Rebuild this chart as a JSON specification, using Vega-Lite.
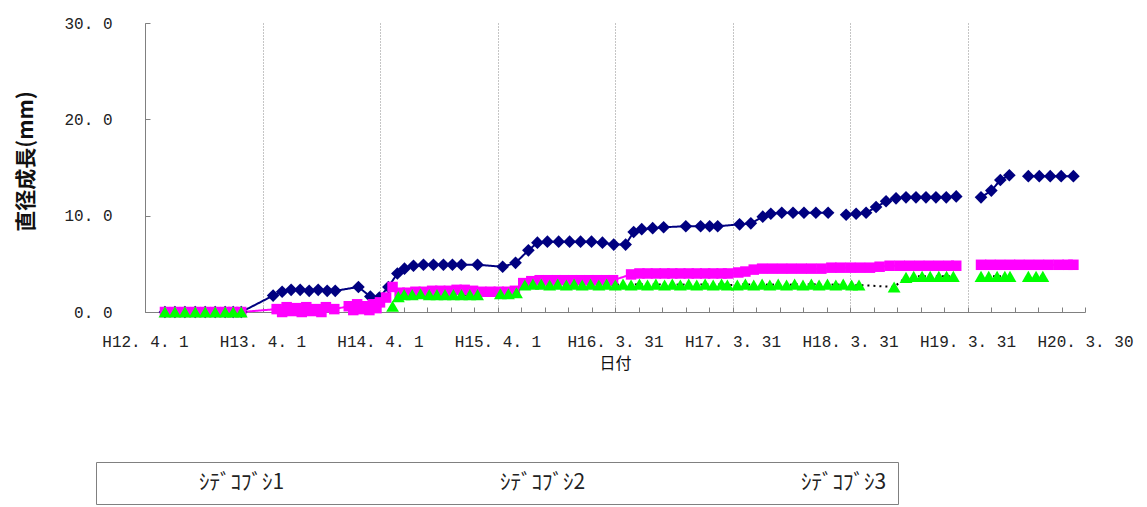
{
  "$schema": "https://vega.github.io/schema/vega-lite/v6.json",
  "width": 940,
  "height": 289,
  "autosize": {"type": "none"},
  "padding": {"left": 145, "top": 23, "right": 62, "bottom": 195},
  "background": "white",
  "config": {"view": {"stroke": null}},
  "data": {"values": [
    {"d":"2000-06-02","s":"ｼﾃﾞｺﾌﾞｼ1","g":1,"v":0},
    {"d":"2000-07-03","s":"ｼﾃﾞｺﾌﾞｼ1","g":1,"v":0},
    {"d":"2000-08-03","s":"ｼﾃﾞｺﾌﾞｼ1","g":1,"v":0},
    {"d":"2000-09-04","s":"ｼﾃﾞｺﾌﾞｼ1","g":1,"v":0},
    {"d":"2000-10-05","s":"ｼﾃﾞｺﾌﾞｼ1","g":1,"v":0},
    {"d":"2000-11-05","s":"ｼﾃﾞｺﾌﾞｼ1","g":1,"v":0},
    {"d":"2000-12-06","s":"ｼﾃﾞｺﾌﾞｼ1","g":1,"v":0},
    {"d":"2000-12-31","s":"ｼﾃﾞｺﾌﾞｼ1","g":1,"v":0},
    {"d":"2001-01-25","s":"ｼﾃﾞｺﾌﾞｼ1","g":1,"v":0},
    {"d":"2001-05-04","s":"ｼﾃﾞｺﾌﾞｼ1","g":1,"v":1.7},
    {"d":"2001-06-01","s":"ｼﾃﾞｺﾌﾞｼ1","g":1,"v":2.1},
    {"d":"2001-06-29","s":"ｼﾃﾞｺﾌﾞｼ1","g":1,"v":2.3},
    {"d":"2001-07-27","s":"ｼﾃﾞｺﾌﾞｼ1","g":1,"v":2.3},
    {"d":"2001-08-24","s":"ｼﾃﾞｺﾌﾞｼ1","g":1,"v":2.2},
    {"d":"2001-09-21","s":"ｼﾃﾞｺﾌﾞｼ1","g":1,"v":2.3},
    {"d":"2001-10-19","s":"ｼﾃﾞｺﾌﾞｼ1","g":1,"v":2.2},
    {"d":"2001-11-13","s":"ｼﾃﾞｺﾌﾞｼ1","g":1,"v":2.2},
    {"d":"2002-01-24","s":"ｼﾃﾞｺﾌﾞｼ1","g":1,"v":2.6},
    {"d":"2002-03-02","s":"ｼﾃﾞｺﾌﾞｼ1","g":1,"v":1.6},
    {"d":"2002-03-30","s":"ｼﾃﾞｺﾌﾞｼ1","g":1,"v":1.5},
    {"d":"2002-04-27","s":"ｼﾃﾞｺﾌﾞｼ1","g":1,"v":2.6},
    {"d":"2002-05-25","s":"ｼﾃﾞｺﾌﾞｼ1","g":1,"v":4.0},
    {"d":"2002-06-16","s":"ｼﾃﾞｺﾌﾞｼ1","g":1,"v":4.5},
    {"d":"2002-07-14","s":"ｼﾃﾞｺﾌﾞｼ1","g":1,"v":4.8},
    {"d":"2002-08-14","s":"ｼﾃﾞｺﾌﾞｼ1","g":1,"v":4.9},
    {"d":"2002-09-14","s":"ｼﾃﾞｺﾌﾞｼ1","g":1,"v":4.9},
    {"d":"2002-10-15","s":"ｼﾃﾞｺﾌﾞｼ1","g":1,"v":4.9},
    {"d":"2002-11-12","s":"ｼﾃﾞｺﾌﾞｼ1","g":1,"v":4.9},
    {"d":"2002-12-10","s":"ｼﾃﾞｺﾌﾞｼ1","g":1,"v":4.9},
    {"d":"2003-01-29","s":"ｼﾃﾞｺﾌﾞｼ1","g":1,"v":4.9},
    {"d":"2003-04-17","s":"ｼﾃﾞｺﾌﾞｼ1","g":1,"v":4.7},
    {"d":"2003-05-27","s":"ｼﾃﾞｺﾌﾞｼ1","g":1,"v":5.1},
    {"d":"2003-07-06","s":"ｼﾃﾞｺﾌﾞｼ1","g":1,"v":6.4},
    {"d":"2003-08-03","s":"ｼﾃﾞｺﾌﾞｼ1","g":1,"v":7.2},
    {"d":"2003-09-03","s":"ｼﾃﾞｺﾌﾞｼ1","g":1,"v":7.3},
    {"d":"2003-10-08","s":"ｼﾃﾞｺﾌﾞｼ1","g":1,"v":7.3},
    {"d":"2003-11-11","s":"ｼﾃﾞｺﾌﾞｼ1","g":1,"v":7.3},
    {"d":"2003-12-15","s":"ｼﾃﾞｺﾌﾞｼ1","g":1,"v":7.3},
    {"d":"2004-01-18","s":"ｼﾃﾞｺﾌﾞｼ1","g":1,"v":7.3},
    {"d":"2004-02-21","s":"ｼﾃﾞｺﾌﾞｼ1","g":1,"v":7.2},
    {"d":"2004-03-27","s":"ｼﾃﾞｺﾌﾞｼ1","g":1,"v":7.0},
    {"d":"2004-05-03","s":"ｼﾃﾞｺﾌﾞｼ1","g":1,"v":7.0},
    {"d":"2004-05-28","s":"ｼﾃﾞｺﾌﾞｼ1","g":1,"v":8.3},
    {"d":"2004-06-22","s":"ｼﾃﾞｺﾌﾞｼ1","g":1,"v":8.6},
    {"d":"2004-07-26","s":"ｼﾃﾞｺﾌﾞｼ1","g":1,"v":8.7},
    {"d":"2004-08-29","s":"ｼﾃﾞｺﾌﾞｼ1","g":1,"v":8.8},
    {"d":"2004-11-06","s":"ｼﾃﾞｺﾌﾞｼ1","g":1,"v":8.9},
    {"d":"2004-12-22","s":"ｼﾃﾞｺﾌﾞｼ1","g":1,"v":8.9},
    {"d":"2005-01-19","s":"ｼﾃﾞｺﾌﾞｼ1","g":1,"v":8.9},
    {"d":"2005-02-13","s":"ｼﾃﾞｺﾌﾞｼ1","g":1,"v":8.9},
    {"d":"2005-04-22","s":"ｼﾃﾞｺﾌﾞｼ1","g":1,"v":9.1},
    {"d":"2005-05-27","s":"ｼﾃﾞｺﾌﾞｼ1","g":1,"v":9.2},
    {"d":"2005-07-03","s":"ｼﾃﾞｺﾌﾞｼ1","g":1,"v":9.9},
    {"d":"2005-07-28","s":"ｼﾃﾞｺﾌﾞｼ1","g":1,"v":10.2},
    {"d":"2005-08-31","s":"ｼﾃﾞｺﾌﾞｼ1","g":1,"v":10.3},
    {"d":"2005-10-05","s":"ｼﾃﾞｺﾌﾞｼ1","g":1,"v":10.3},
    {"d":"2005-11-08","s":"ｼﾃﾞｺﾌﾞｼ1","g":1,"v":10.3},
    {"d":"2005-12-15","s":"ｼﾃﾞｺﾌﾞｼ1","g":1,"v":10.3},
    {"d":"2006-01-22","s":"ｼﾃﾞｺﾌﾞｼ1","g":1,"v":10.3},
    {"d":"2006-03-19","s":"ｼﾃﾞｺﾌﾞｼ1","g":2,"v":10.1},
    {"d":"2006-04-19","s":"ｼﾃﾞｺﾌﾞｼ1","g":2,"v":10.2},
    {"d":"2006-05-20","s":"ｼﾃﾞｺﾌﾞｼ1","g":2,"v":10.3},
    {"d":"2006-06-20","s":"ｼﾃﾞｺﾌﾞｼ1","g":2,"v":10.9},
    {"d":"2006-07-21","s":"ｼﾃﾞｺﾌﾞｼ1","g":2,"v":11.5},
    {"d":"2006-08-21","s":"ｼﾃﾞｺﾌﾞｼ1","g":2,"v":11.8},
    {"d":"2006-09-21","s":"ｼﾃﾞｺﾌﾞｼ1","g":2,"v":11.9},
    {"d":"2006-10-22","s":"ｼﾃﾞｺﾌﾞｼ1","g":2,"v":11.9},
    {"d":"2006-11-22","s":"ｼﾃﾞｺﾌﾞｼ1","g":2,"v":11.9},
    {"d":"2006-12-23","s":"ｼﾃﾞｺﾌﾞｼ1","g":2,"v":11.9},
    {"d":"2007-01-24","s":"ｼﾃﾞｺﾌﾞｼ1","g":2,"v":11.9},
    {"d":"2007-02-24","s":"ｼﾃﾞｺﾌﾞｼ1","g":2,"v":12.0},
    {"d":"2007-05-12","s":"ｼﾃﾞｺﾌﾞｼ1","g":3,"v":11.9},
    {"d":"2007-06-13","s":"ｼﾃﾞｺﾌﾞｼ1","g":3,"v":12.6},
    {"d":"2007-07-11","s":"ｼﾃﾞｺﾌﾞｼ1","g":3,"v":13.7},
    {"d":"2007-08-08","s":"ｼﾃﾞｺﾌﾞｼ1","g":3,"v":14.2},
    {"d":"2007-10-06","s":"ｼﾃﾞｺﾌﾞｼ1","g":4,"v":14.1},
    {"d":"2007-11-09","s":"ｼﾃﾞｺﾌﾞｼ1","g":4,"v":14.1},
    {"d":"2007-12-13","s":"ｼﾃﾞｺﾌﾞｼ1","g":4,"v":14.1},
    {"d":"2008-01-16","s":"ｼﾃﾞｺﾌﾞｼ1","g":4,"v":14.1},
    {"d":"2008-02-23","s":"ｼﾃﾞｺﾌﾞｼ1","g":4,"v":14.1},

    {"d":"2000-06-02","s":"ｼﾃﾞｺﾌﾞｼ2","g":1,"v":0},
    {"d":"2000-07-03","s":"ｼﾃﾞｺﾌﾞｼ2","g":1,"v":0},
    {"d":"2000-08-03","s":"ｼﾃﾞｺﾌﾞｼ2","g":1,"v":0},
    {"d":"2000-09-04","s":"ｼﾃﾞｺﾌﾞｼ2","g":1,"v":0},
    {"d":"2000-10-05","s":"ｼﾃﾞｺﾌﾞｼ2","g":1,"v":0},
    {"d":"2000-11-05","s":"ｼﾃﾞｺﾌﾞｼ2","g":1,"v":0},
    {"d":"2000-12-06","s":"ｼﾃﾞｺﾌﾞｼ2","g":1,"v":0},
    {"d":"2000-12-31","s":"ｼﾃﾞｺﾌﾞｼ2","g":1,"v":0},
    {"d":"2001-01-25","s":"ｼﾃﾞｺﾌﾞｼ2","g":1,"v":0},
    {"d":"2001-05-15","s":"ｼﾃﾞｺﾌﾞｼ2","g":1,"v":0.3},
    {"d":"2001-06-01","s":"ｼﾃﾞｺﾌﾞｼ2","g":1,"v":0.0},
    {"d":"2001-06-15","s":"ｼﾃﾞｺﾌﾞｼ2","g":1,"v":0.5},
    {"d":"2001-07-01","s":"ｼﾃﾞｺﾌﾞｼ2","g":1,"v":0.1},
    {"d":"2001-07-15","s":"ｼﾃﾞｺﾌﾞｼ2","g":1,"v":0.4},
    {"d":"2001-08-01","s":"ｼﾃﾞｺﾌﾞｼ2","g":1,"v":0.0},
    {"d":"2001-08-15","s":"ｼﾃﾞｺﾌﾞｼ2","g":1,"v":0.5},
    {"d":"2001-09-01","s":"ｼﾃﾞｺﾌﾞｼ2","g":1,"v":0.1},
    {"d":"2001-09-15","s":"ｼﾃﾞｺﾌﾞｼ2","g":1,"v":0.3},
    {"d":"2001-10-01","s":"ｼﾃﾞｺﾌﾞｼ2","g":1,"v":0.0},
    {"d":"2001-10-15","s":"ｼﾃﾞｺﾌﾞｼ2","g":1,"v":0.5},
    {"d":"2001-11-10","s":"ｼﾃﾞｺﾌﾞｼ2","g":1,"v":0.3},
    {"d":"2001-12-25","s":"ｼﾃﾞｺﾌﾞｼ2","g":1,"v":0.6},
    {"d":"2002-01-08","s":"ｼﾃﾞｺﾌﾞｼ2","g":1,"v":0.2},
    {"d":"2002-01-20","s":"ｼﾃﾞｺﾌﾞｼ2","g":1,"v":0.8},
    {"d":"2002-02-03","s":"ｼﾃﾞｺﾌﾞｼ2","g":1,"v":0.3},
    {"d":"2002-02-15","s":"ｼﾃﾞｺﾌﾞｼ2","g":1,"v":0.6},
    {"d":"2002-02-27","s":"ｼﾃﾞｺﾌﾞｼ2","g":1,"v":0.2},
    {"d":"2002-03-10","s":"ｼﾃﾞｺﾌﾞｼ2","g":1,"v":0.8},
    {"d":"2002-03-21","s":"ｼﾃﾞｺﾌﾞｼ2","g":1,"v":0.4},
    {"d":"2002-04-01","s":"ｼﾃﾞｺﾌﾞｼ2","g":1,"v":1.0},
    {"d":"2002-04-20","s":"ｼﾃﾞｺﾌﾞｼ2","g":1,"v":1.5},
    {"d":"2002-05-10","s":"ｼﾃﾞｺﾌﾞｼ2","g":1,"v":2.6},
    {"d":"2002-06-01","s":"ｼﾃﾞｺﾌﾞｼ2","g":1,"v":2.0},
    {"d":"2002-06-25","s":"ｼﾃﾞｺﾌﾞｼ2","g":1,"v":2.0},
    {"d":"2002-07-20","s":"ｼﾃﾞｺﾌﾞｼ2","g":1,"v":2.1},
    {"d":"2002-08-15","s":"ｼﾃﾞｺﾌﾞｼ2","g":1,"v":2.1},
    {"d":"2002-09-10","s":"ｼﾃﾞｺﾌﾞｼ2","g":1,"v":2.2},
    {"d":"2002-10-05","s":"ｼﾃﾞｺﾌﾞｼ2","g":1,"v":2.2},
    {"d":"2002-11-01","s":"ｼﾃﾞｺﾌﾞｼ2","g":1,"v":2.2},
    {"d":"2002-11-25","s":"ｼﾃﾞｺﾌﾞｼ2","g":1,"v":2.3},
    {"d":"2002-12-20","s":"ｼﾃﾞｺﾌﾞｼ2","g":1,"v":2.3},
    {"d":"2003-01-15","s":"ｼﾃﾞｺﾌﾞｼ2","g":1,"v":2.2},
    {"d":"2003-02-10","s":"ｼﾃﾞｺﾌﾞｼ2","g":1,"v":2.1},
    {"d":"2003-03-10","s":"ｼﾃﾞｺﾌﾞｼ2","g":1,"v":2.1},
    {"d":"2003-04-05","s":"ｼﾃﾞｺﾌﾞｼ2","g":1,"v":2.1},
    {"d":"2003-05-01","s":"ｼﾃﾞｺﾌﾞｼ2","g":1,"v":2.1},
    {"d":"2003-05-25","s":"ｼﾃﾞｺﾌﾞｼ2","g":1,"v":2.2},
    {"d":"2003-06-20","s":"ｼﾃﾞｺﾌﾞｼ2","g":1,"v":3.0},
    {"d":"2003-07-15","s":"ｼﾃﾞｺﾌﾞｼ2","g":1,"v":3.2},
    {"d":"2003-08-10","s":"ｼﾃﾞｺﾌﾞｼ2","g":1,"v":3.3},
    {"d":"2003-09-05","s":"ｼﾃﾞｺﾌﾞｼ2","g":1,"v":3.3},
    {"d":"2003-10-01","s":"ｼﾃﾞｺﾌﾞｼ2","g":1,"v":3.3},
    {"d":"2003-10-25","s":"ｼﾃﾞｺﾌﾞｼ2","g":1,"v":3.3},
    {"d":"2003-11-20","s":"ｼﾃﾞｺﾌﾞｼ2","g":1,"v":3.3},
    {"d":"2003-12-15","s":"ｼﾃﾞｺﾌﾞｼ2","g":1,"v":3.3},
    {"d":"2004-01-10","s":"ｼﾃﾞｺﾌﾞｼ2","g":1,"v":3.3},
    {"d":"2004-02-05","s":"ｼﾃﾞｺﾌﾞｼ2","g":1,"v":3.3},
    {"d":"2004-03-01","s":"ｼﾃﾞｺﾌﾞｼ2","g":1,"v":3.3},
    {"d":"2004-03-25","s":"ｼﾃﾞｺﾌﾞｼ2","g":1,"v":3.3},
    {"d":"2004-05-20","s":"ｼﾃﾞｺﾌﾞｼ2","g":1,"v":3.9},
    {"d":"2004-06-15","s":"ｼﾃﾞｺﾌﾞｼ2","g":1,"v":4.0},
    {"d":"2004-07-10","s":"ｼﾃﾞｺﾌﾞｼ2","g":1,"v":4.0},
    {"d":"2004-08-05","s":"ｼﾃﾞｺﾌﾞｼ2","g":1,"v":4.0},
    {"d":"2004-09-01","s":"ｼﾃﾞｺﾌﾞｼ2","g":1,"v":4.0},
    {"d":"2004-09-25","s":"ｼﾃﾞｺﾌﾞｼ2","g":1,"v":4.0},
    {"d":"2004-10-20","s":"ｼﾃﾞｺﾌﾞｼ2","g":1,"v":4.0},
    {"d":"2004-11-15","s":"ｼﾃﾞｺﾌﾞｼ2","g":1,"v":4.0},
    {"d":"2004-12-10","s":"ｼﾃﾞｺﾌﾞｼ2","g":1,"v":4.0},
    {"d":"2005-01-05","s":"ｼﾃﾞｺﾌﾞｼ2","g":1,"v":4.0},
    {"d":"2005-01-30","s":"ｼﾃﾞｺﾌﾞｼ2","g":1,"v":4.0},
    {"d":"2005-02-25","s":"ｼﾃﾞｺﾌﾞｼ2","g":1,"v":4.0},
    {"d":"2005-03-17","s":"ｼﾃﾞｺﾌﾞｼ2","g":1,"v":4.0},
    {"d":"2005-04-18","s":"ｼﾃﾞｺﾌﾞｼ2","g":1,"v":4.1},
    {"d":"2005-05-10","s":"ｼﾃﾞｺﾌﾞｼ2","g":1,"v":4.2},
    {"d":"2005-06-05","s":"ｼﾃﾞｺﾌﾞｼ2","g":1,"v":4.4},
    {"d":"2005-07-01","s":"ｼﾃﾞｺﾌﾞｼ2","g":1,"v":4.5},
    {"d":"2005-08-01","s":"ｼﾃﾞｺﾌﾞｼ2","g":1,"v":4.5},
    {"d":"2005-09-01","s":"ｼﾃﾞｺﾌﾞｼ2","g":1,"v":4.5},
    {"d":"2005-10-01","s":"ｼﾃﾞｺﾌﾞｼ2","g":1,"v":4.5},
    {"d":"2005-11-01","s":"ｼﾃﾞｺﾌﾞｼ2","g":1,"v":4.5},
    {"d":"2005-12-01","s":"ｼﾃﾞｺﾌﾞｼ2","g":1,"v":4.5},
    {"d":"2006-01-01","s":"ｼﾃﾞｺﾌﾞｼ2","g":1,"v":4.5},
    {"d":"2006-02-01","s":"ｼﾃﾞｺﾌﾞｼ2","g":1,"v":4.6},
    {"d":"2006-03-01","s":"ｼﾃﾞｺﾌﾞｼ2","g":1,"v":4.6},
    {"d":"2006-04-01","s":"ｼﾃﾞｺﾌﾞｼ2","g":1,"v":4.6},
    {"d":"2006-05-01","s":"ｼﾃﾞｺﾌﾞｼ2","g":1,"v":4.6},
    {"d":"2006-06-01","s":"ｼﾃﾞｺﾌﾞｼ2","g":1,"v":4.6},
    {"d":"2006-07-01","s":"ｼﾃﾞｺﾌﾞｼ2","g":1,"v":4.7},
    {"d":"2006-08-01","s":"ｼﾃﾞｺﾌﾞｼ2","g":1,"v":4.8},
    {"d":"2006-09-01","s":"ｼﾃﾞｺﾌﾞｼ2","g":1,"v":4.8},
    {"d":"2006-10-01","s":"ｼﾃﾞｺﾌﾞｼ2","g":1,"v":4.8},
    {"d":"2006-11-01","s":"ｼﾃﾞｺﾌﾞｼ2","g":1,"v":4.8},
    {"d":"2006-12-01","s":"ｼﾃﾞｺﾌﾞｼ2","g":1,"v":4.8},
    {"d":"2007-01-01","s":"ｼﾃﾞｺﾌﾞｼ2","g":1,"v":4.8},
    {"d":"2007-02-01","s":"ｼﾃﾞｺﾌﾞｼ2","g":1,"v":4.8},
    {"d":"2007-02-24","s":"ｼﾃﾞｺﾌﾞｼ2","g":1,"v":4.8},
    {"d":"2007-05-12","s":"ｼﾃﾞｺﾌﾞｼ2","g":2,"v":4.9},
    {"d":"2007-06-10","s":"ｼﾃﾞｺﾌﾞｼ2","g":2,"v":4.9},
    {"d":"2007-07-10","s":"ｼﾃﾞｺﾌﾞｼ2","g":2,"v":4.9},
    {"d":"2007-08-10","s":"ｼﾃﾞｺﾌﾞｼ2","g":2,"v":4.9},
    {"d":"2007-09-08","s":"ｼﾃﾞｺﾌﾞｼ2","g":2,"v":4.9},
    {"d":"2007-10-08","s":"ｼﾃﾞｺﾌﾞｼ2","g":2,"v":4.9},
    {"d":"2007-11-08","s":"ｼﾃﾞｺﾌﾞｼ2","g":2,"v":4.9},
    {"d":"2007-12-08","s":"ｼﾃﾞｺﾌﾞｼ2","g":2,"v":4.9},
    {"d":"2008-01-08","s":"ｼﾃﾞｺﾌﾞｼ2","g":2,"v":4.9},
    {"d":"2008-02-05","s":"ｼﾃﾞｺﾌﾞｼ2","g":2,"v":4.9},
    {"d":"2008-02-23","s":"ｼﾃﾞｺﾌﾞｼ2","g":2,"v":4.9},

    {"d":"2000-06-02","s":"ｼﾃﾞｺﾌﾞｼ3","g":1,"v":0},
    {"d":"2000-07-03","s":"ｼﾃﾞｺﾌﾞｼ3","g":1,"v":0},
    {"d":"2000-08-03","s":"ｼﾃﾞｺﾌﾞｼ3","g":1,"v":0},
    {"d":"2000-09-04","s":"ｼﾃﾞｺﾌﾞｼ3","g":1,"v":0},
    {"d":"2000-10-05","s":"ｼﾃﾞｺﾌﾞｼ3","g":1,"v":0},
    {"d":"2000-11-05","s":"ｼﾃﾞｺﾌﾞｼ3","g":1,"v":0},
    {"d":"2000-12-06","s":"ｼﾃﾞｺﾌﾞｼ3","g":1,"v":0},
    {"d":"2000-12-31","s":"ｼﾃﾞｺﾌﾞｼ3","g":1,"v":0},
    {"d":"2001-01-25","s":"ｼﾃﾞｺﾌﾞｼ3","g":1,"v":0},
    {"d":"2002-05-10","s":"ｼﾃﾞｺﾌﾞｼ3","g":2,"v":0.6},
    {"d":"2002-05-28","s":"ｼﾃﾞｺﾌﾞｼ3","g":2,"v":1.6},
    {"d":"2002-06-15","s":"ｼﾃﾞｺﾌﾞｼ3","g":2,"v":1.8},
    {"d":"2002-07-10","s":"ｼﾃﾞｺﾌﾞｼ3","g":2,"v":1.8},
    {"d":"2002-08-05","s":"ｼﾃﾞｺﾌﾞｼ3","g":2,"v":1.9},
    {"d":"2002-09-01","s":"ｼﾃﾞｺﾌﾞｼ3","g":2,"v":1.8},
    {"d":"2002-09-25","s":"ｼﾃﾞｺﾌﾞｼ3","g":2,"v":1.8},
    {"d":"2002-10-20","s":"ｼﾃﾞｺﾌﾞｼ3","g":2,"v":1.8},
    {"d":"2002-11-15","s":"ｼﾃﾞｺﾌﾞｼ3","g":2,"v":1.8},
    {"d":"2002-12-10","s":"ｼﾃﾞｺﾌﾞｼ3","g":2,"v":1.8},
    {"d":"2003-01-05","s":"ｼﾃﾞｺﾌﾞｼ3","g":2,"v":1.8},
    {"d":"2003-01-29","s":"ｼﾃﾞｺﾌﾞｼ3","g":2,"v":1.8},
    {"d":"2003-04-10","s":"ｼﾃﾞｺﾌﾞｼ3","g":2,"v":1.9},
    {"d":"2003-05-05","s":"ｼﾃﾞｺﾌﾞｼ3","g":2,"v":1.9},
    {"d":"2003-05-30","s":"ｼﾃﾞｺﾌﾞｼ3","g":2,"v":2.0},
    {"d":"2003-06-25","s":"ｼﾃﾞｺﾌﾞｼ3","g":2,"v":2.8},
    {"d":"2003-07-20","s":"ｼﾃﾞｺﾌﾞｼ3","g":2,"v":2.9},
    {"d":"2003-08-15","s":"ｼﾃﾞｺﾌﾞｼ3","g":2,"v":2.9},
    {"d":"2003-09-10","s":"ｼﾃﾞｺﾌﾞｼ3","g":2,"v":2.8},
    {"d":"2003-10-05","s":"ｼﾃﾞｺﾌﾞｼ3","g":2,"v":2.9},
    {"d":"2003-11-01","s":"ｼﾃﾞｺﾌﾞｼ3","g":2,"v":2.8},
    {"d":"2003-11-25","s":"ｼﾃﾞｺﾌﾞｼ3","g":2,"v":2.9},
    {"d":"2003-12-20","s":"ｼﾃﾞｺﾌﾞｼ3","g":2,"v":2.8},
    {"d":"2004-01-15","s":"ｼﾃﾞｺﾌﾞｼ3","g":2,"v":2.9},
    {"d":"2004-02-10","s":"ｼﾃﾞｺﾌﾞｼ3","g":2,"v":2.8},
    {"d":"2004-03-05","s":"ｼﾃﾞｺﾌﾞｼ3","g":2,"v":2.9},
    {"d":"2004-04-01","s":"ｼﾃﾞｺﾌﾞｼ3","g":2,"v":2.8},
    {"d":"2004-04-25","s":"ｼﾃﾞｺﾌﾞｼ3","g":2,"v":2.9},
    {"d":"2004-05-20","s":"ｼﾃﾞｺﾌﾞｼ3","g":2,"v":2.8},
    {"d":"2004-06-15","s":"ｼﾃﾞｺﾌﾞｼ3","g":2,"v":2.9},
    {"d":"2004-07-10","s":"ｼﾃﾞｺﾌﾞｼ3","g":2,"v":2.8},
    {"d":"2004-08-05","s":"ｼﾃﾞｺﾌﾞｼ3","g":2,"v":2.9},
    {"d":"2004-09-01","s":"ｼﾃﾞｺﾌﾞｼ3","g":2,"v":2.8},
    {"d":"2004-09-25","s":"ｼﾃﾞｺﾌﾞｼ3","g":2,"v":2.9},
    {"d":"2004-10-20","s":"ｼﾃﾞｺﾌﾞｼ3","g":2,"v":2.8},
    {"d":"2004-11-15","s":"ｼﾃﾞｺﾌﾞｼ3","g":2,"v":2.9},
    {"d":"2004-12-10","s":"ｼﾃﾞｺﾌﾞｼ3","g":2,"v":2.8},
    {"d":"2005-01-05","s":"ｼﾃﾞｺﾌﾞｼ3","g":2,"v":2.9},
    {"d":"2005-01-30","s":"ｼﾃﾞｺﾌﾞｼ3","g":2,"v":2.8},
    {"d":"2005-02-25","s":"ｼﾃﾞｺﾌﾞｼ3","g":2,"v":2.9},
    {"d":"2005-03-15","s":"ｼﾃﾞｺﾌﾞｼ3","g":2,"v":2.8},
    {"d":"2005-04-15","s":"ｼﾃﾞｺﾌﾞｼ3","g":2,"v":2.8},
    {"d":"2005-05-10","s":"ｼﾃﾞｺﾌﾞｼ3","g":2,"v":2.9},
    {"d":"2005-06-05","s":"ｼﾃﾞｺﾌﾞｼ3","g":2,"v":2.8},
    {"d":"2005-07-01","s":"ｼﾃﾞｺﾌﾞｼ3","g":2,"v":2.9},
    {"d":"2005-07-25","s":"ｼﾃﾞｺﾌﾞｼ3","g":2,"v":2.8},
    {"d":"2005-08-20","s":"ｼﾃﾞｺﾌﾞｼ3","g":2,"v":2.9},
    {"d":"2005-09-15","s":"ｼﾃﾞｺﾌﾞｼ3","g":2,"v":2.8},
    {"d":"2005-10-10","s":"ｼﾃﾞｺﾌﾞｼ3","g":2,"v":2.9},
    {"d":"2005-11-05","s":"ｼﾃﾞｺﾌﾞｼ3","g":2,"v":2.8},
    {"d":"2005-12-01","s":"ｼﾃﾞｺﾌﾞｼ3","g":2,"v":2.9},
    {"d":"2005-12-25","s":"ｼﾃﾞｺﾌﾞｼ3","g":2,"v":2.8},
    {"d":"2006-01-20","s":"ｼﾃﾞｺﾌﾞｼ3","g":2,"v":2.9},
    {"d":"2006-02-15","s":"ｼﾃﾞｺﾌﾞｼ3","g":2,"v":2.8},
    {"d":"2006-03-10","s":"ｼﾃﾞｺﾌﾞｼ3","g":2,"v":2.9},
    {"d":"2006-04-05","s":"ｼﾃﾞｺﾌﾞｼ3","g":2,"v":2.8},
    {"d":"2006-04-28","s":"ｼﾃﾞｺﾌﾞｼ3","g":2,"v":2.8},
    {"d":"2006-08-15","s":"ｼﾃﾞｺﾌﾞｼ3","g":2,"v":2.6},
    {"d":"2006-09-21","s":"ｼﾃﾞｺﾌﾞｼ3","g":2,"v":3.6},
    {"d":"2006-10-15","s":"ｼﾃﾞｺﾌﾞｼ3","g":2,"v":3.7},
    {"d":"2006-11-10","s":"ｼﾃﾞｺﾌﾞｼ3","g":2,"v":3.7},
    {"d":"2006-12-05","s":"ｼﾃﾞｺﾌﾞｼ3","g":2,"v":3.7},
    {"d":"2007-01-01","s":"ｼﾃﾞｺﾌﾞｼ3","g":2,"v":3.7},
    {"d":"2007-01-25","s":"ｼﾃﾞｺﾌﾞｼ3","g":2,"v":3.7},
    {"d":"2007-02-15","s":"ｼﾃﾞｺﾌﾞｼ3","g":2,"v":3.7},
    {"d":"2007-05-12","s":"ｼﾃﾞｺﾌﾞｼ3","g":3,"v":3.7},
    {"d":"2007-06-05","s":"ｼﾃﾞｺﾌﾞｼ3","g":3,"v":3.7},
    {"d":"2007-07-01","s":"ｼﾃﾞｺﾌﾞｼ3","g":3,"v":3.7},
    {"d":"2007-07-25","s":"ｼﾃﾞｺﾌﾞｼ3","g":3,"v":3.7},
    {"d":"2007-08-10","s":"ｼﾃﾞｺﾌﾞｼ3","g":3,"v":3.7},
    {"d":"2007-10-06","s":"ｼﾃﾞｺﾌﾞｼ3","g":4,"v":3.7},
    {"d":"2007-10-30","s":"ｼﾃﾞｺﾌﾞｼ3","g":4,"v":3.7},
    {"d":"2007-11-20","s":"ｼﾃﾞｺﾌﾞｼ3","g":4,"v":3.7}
  ]},
  "encoding": {
    "x": {
      "field": "d", "type": "temporal",
      "scale": {"type": "utc", "domain": [954547200000, 1206835200000]},
      "axis": {
        "values": [954547200000, 960854400000, 967161600000, 973468800000, 979776000000, 986083200000, 992390400000, 998697600000, 1005004800000, 1011312000000, 1017619200000, 1023926400000, 1030233600000, 1036540800000, 1042848000000, 1049155200000, 1055462400000, 1061769600000, 1068076800000, 1074384000000, 1080691200000, 1086998400000, 1093305600000, 1099612800000, 1105920000000, 1112227200000, 1118534400000, 1124841600000, 1131148800000, 1137456000000, 1143763200000, 1150070400000, 1156377600000, 1162684800000, 1168992000000, 1175299200000, 1181606400000, 1187913600000, 1194220800000, 1200528000000, 1206835200000],
        "labelExpr": "(datum.value - 954547200000) % 31536000000 === 0 ? 'H' + (utcyear(datum.value) - 1988) + '. ' + (utcmonth(datum.value) + 1) + '. ' + utcdate(datum.value) : ''",
        "labelOverlap": false,
        "labelFlush": false,
        "labelFont": "Liberation Mono",
        "labelFontSize": 16,
        "labelColor": "#222222",
        "labelPadding": 26,
        "tickSize": -5,
        "tickColor": "#808080",
        "domainColor": "#808080",
        "grid": true,
        "gridColor": "#8a8a8a",
        "gridDash": [1, 2],
        "gridOpacity": {"condition": {"test": "(datum.value - 954547200000) % 31536000000 === 0 && datum.value < 1206835200000", "value": 1}, "value": 0},
        "title": "日付",
        "titleFont": "Noto Sans CJK JP",
        "titleFontSize": 16,
        "titleFontWeight": "normal",
        "titleColor": "#111111",
        "titleBaseline": "top",
        "titleX": 470,
        "titleY": 43
      }
    },
    "y": {
      "field": "v", "type": "quantitative",
      "scale": {"domain": [0, 30]},
      "axis": {
        "values": [0, 10, 20, 30],
        "labelExpr": "replace(format(datum.value, '.1f'), '.', '. ')",
        "labelFont": "Liberation Mono",
        "labelFontSize": 16,
        "labelColor": "#222222",
        "labelPadding": 38,
        "tickSize": -5,
        "tickColor": "#808080",
        "domainColor": "#808080",
        "grid": false,
        "title": "直径成長(mm)",
        "titleFont": "Noto Sans CJK JP",
        "titleFontSize": 21,
        "titleFontWeight": "bold",
        "titleColor": "#111111",
        "titleX": -109,
        "titleY": 138
      }
    }
  },
  "layer": [
    {
      "mark": {"type": "line", "strokeWidth": 2},
      "encoding": {
        "detail": [{"field": "s", "type": "nominal"}, {"field": "g", "type": "nominal"}],
        "color": {
          "condition": [
            {"test": "datum.s === 'ｼﾃﾞｺﾌﾞｼ1'", "value": "#000080"},
            {"test": "datum.s === 'ｼﾃﾞｺﾌﾞｼ2'", "value": "#ff00ff"}
          ],
          "value": "#000000"
        },
        "strokeDash": {
          "condition": {"test": "datum.s === 'ｼﾃﾞｺﾌﾞｼ3'", "value": [2, 4]},
          "value": [1, 0]
        }
      }
    },
    {
      "mark": {"type": "point", "filled": true, "opacity": 1, "strokeWidth": 0},
      "encoding": {
        "size": {
          "condition": [
            {"test": "datum.s === 'ｼﾃﾞｺﾌﾞｼ1'", "value": 160},
            {"test": "datum.s === 'ｼﾃﾞｺﾌﾞｼ2'", "value": 110}
          ],
          "value": 165
        },
        "shape": {
          "condition": [
            {"test": "datum.s === 'ｼﾃﾞｺﾌﾞｼ1'", "value": "diamond"},
            {"test": "datum.s === 'ｼﾃﾞｺﾌﾞｼ2'", "value": "square"}
          ],
          "value": "triangle-up"
        },
        "color": {
          "condition": [
            {"test": "datum.s === 'ｼﾃﾞｺﾌﾞｼ1'", "value": "#000080"},
            {"test": "datum.s === 'ｼﾃﾞｺﾌﾞｼ2'", "value": "#ff00ff"}
          ],
          "value": "#00ff00"
        }
      }
    },
    {
      "transform": [{"filter": "datum.v === 0 && datum.g === 1"}],
      "mark": {"type": "point", "filled": true, "opacity": 0, "strokeWidth": 0, "size": 7569},
      "encoding": {
        "shape": {
          "field": "s", "type": "nominal",
          "scale": {"domain": ["ｼﾃﾞｺﾌﾞｼ1", "ｼﾃﾞｺﾌﾞｼ2", "ｼﾃﾞｺﾌﾞｼ3"], "range": [
            "M-1,-0.023H1V0.023H-1Z M0,-0.165L0.145,0L0,0.165L-0.145,0Z",
            "M-1,-0.023H1V0.023H-1Z M-0.13,-0.13H0.13V0.13H-0.13Z",
            "M-0.95,-0.03h0.06v0.06h-0.06Z M-0.766,-0.03h0.06v0.06h-0.06Z M-0.582,-0.03h0.06v0.06h-0.06Z M-0.398,-0.03h0.06v0.06h-0.06Z M0.338,-0.03h0.06v0.06h-0.06Z M0.522,-0.03h0.06v0.06h-0.06Z M0.706,-0.03h0.06v0.06h-0.06Z M0.89,-0.03h0.06v0.06h-0.06Z M0,-0.15L0.16,0.12L-0.16,0.12Z"
          ]}
        },
        "color": {
          "field": "s", "type": "nominal",
          "scale": {"domain": ["ｼﾃﾞｺﾌﾞｼ1", "ｼﾃﾞｺﾌﾞｼ2", "ｼﾃﾞｺﾌﾞｼ3"], "range": ["#000080", "#ff00ff", "#00ff00"]},
          "legend": {
            "title": null,
            "orient": "none",
            "legendX": -49,
            "legendY": 439,
            "direction": "horizontal",
            "columns": 3,
            "columnPadding": 123,
            "padding": 11,
            "strokeColor": "#808080",
            "fillColor": "white",
            "clipHeight": 20,
            "symbolSize": 7569,
            "symbolStrokeWidth": 0,
            "symbolOpacity": 1,
            "labelFont": "Noto Sans CJK JP",
            "labelFontSize": 21,
            "labelColor": "#222222",
            "labelOffset": 5
          }
        }
      }
    }
  ]
}
